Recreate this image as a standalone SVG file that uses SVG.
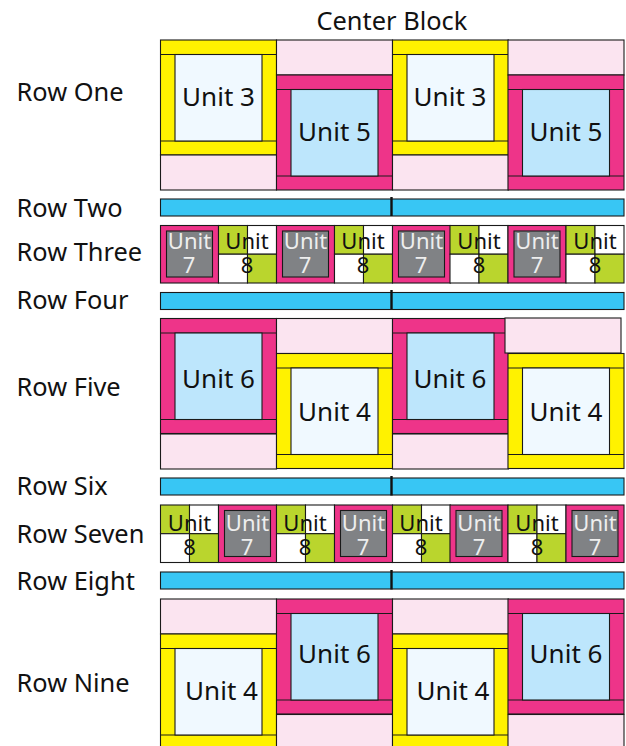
<svg xmlns="http://www.w3.org/2000/svg" width="626" height="746" viewBox="0 0 626 746">
<style>
text{font-family:"Noto Sans","Open Sans","DejaVu Sans",sans-serif;fill:#111}
.lab{font-size:25.4px}
.big{font-size:26px;text-anchor:middle}
.sm{font-size:22px;text-anchor:middle}
.w{fill:#eee}
rect,line{stroke:#1a1a1a;stroke-width:1.1}
.y{fill:#fff200}.m{fill:#ee3489}.p{fill:#fbe4f0}.lb{fill:#bde6fc}.pl{fill:#f0f9ff}.b{fill:#38c6f4}.g{fill:#bad52d}.wh{fill:#fff}.gr{fill:#808285}
.tick{stroke:#111;stroke-width:2.4}
</style>
<defs>
<g id="fy"><rect class="y" width="116" height="115"/><line x1="0" x2="116" y1="14.5" y2="14.5"/><line x1="0" x2="116" y1="101" y2="101"/><rect class="pl" x="14.5" y="14.5" width="87" height="86.5"/></g>
<g id="fm"><rect class="m" width="116" height="115"/><line x1="0" x2="116" y1="14.5" y2="14.5"/><line x1="0" x2="116" y1="101" y2="101"/><rect class="lb" x="14.5" y="14.5" width="87" height="86.5"/></g>
<rect id="pk" class="p" width="116" height="35"/>
<rect id="bar" class="b" width="463.5" height="17"/>
<g id="u7"><rect class="m" width="58" height="57.5"/><rect class="gr" x="6" y="5.5" width="46" height="46"/></g>
<g id="u8"><rect class="g" width="29" height="28.7"/><rect class="wh" x="29" width="29" height="28.7"/><rect class="wh" y="28.7" width="29" height="28.8"/><rect class="g" x="29" y="28.7" width="29" height="28.8"/></g>
</defs>

<g id="labels">
<text class="lab" x="316.5" y="30">Center Block</text>
<text class="lab" x="16.5" y="101">Row One</text>
<text class="lab" x="16.5" y="217">Row Two</text>
<text class="lab" x="16.5" y="261">Row Three</text>
<text class="lab" x="16.5" y="309">Row Four</text>
<text class="lab" x="16.5" y="396">Row Five</text>
<text class="lab" x="16.5" y="495">Row Six</text>
<text class="lab" x="16.5" y="543">Row Seven</text>
<text class="lab" x="16.5" y="590">Row Eight</text>
<text class="lab" x="16.5" y="692">Row Nine</text>
</g>

<g id="row1">
<g id="r1u3a"><use href="#fy" x="160.5" y="40"/><use href="#pk" x="160.5" y="155"/><text class="big" x="218.5" y="106">Unit 3</text></g>
<g id="r1u5a"><use href="#pk" x="276.5" y="40"/><use href="#fm" x="276.5" y="75"/><text class="big" x="334.5" y="141">Unit 5</text></g>
<g id="r1u3b"><use href="#fy" x="392.5" y="40"/><use href="#pk" x="392.5" y="155"/><text class="big" x="450" y="106">Unit 3</text></g>
<g id="r1u5b"><use href="#pk" x="508" y="40"/><use href="#fm" x="508" y="75"/><text class="big" x="566" y="141">Unit 5</text></g>
</g>

<g id="row2"><use href="#bar" x="160.5" y="199"/><line class="tick" x1="391.5" x2="391.5" y1="197" y2="216"/></g>

<g id="row3">
<g id="r3a"><use href="#u7" x="160.5" y="225.5"/><text class="sm w" x="189.5" y="249">Unit</text><text class="sm w" x="189" y="273">7</text></g>
<g id="r3b"><use href="#u8" x="218.5" y="225.5"/><text class="sm" x="247" y="249">Unit</text><text class="sm" x="247" y="273">8</text></g>
<g id="r3c"><use href="#u7" x="276.5" y="225.5"/><text class="sm w" x="305.5" y="249">Unit</text><text class="sm w" x="305" y="273">7</text></g>
<g id="r3d"><use href="#u8" x="334.5" y="225.5"/><text class="sm" x="363" y="249">Unit</text><text class="sm" x="363" y="273">8</text></g>
<g id="r3e"><use href="#u7" x="392.5" y="225.5"/><text class="sm w" x="421.5" y="249">Unit</text><text class="sm w" x="421" y="273">7</text></g>
<g id="r3f"><use href="#u8" x="450" y="225.5"/><text class="sm" x="479" y="249">Unit</text><text class="sm" x="479" y="273">8</text></g>
<g id="r3g"><use href="#u7" x="508" y="225.5"/><text class="sm w" x="537" y="249">Unit</text><text class="sm w" x="537" y="273">7</text></g>
<g id="r3h"><use href="#u8" x="566" y="225.5"/><text class="sm" x="595" y="249">Unit</text><text class="sm" x="595" y="273">8</text></g>
</g>

<g id="row4"><use href="#bar" x="160.5" y="292.5"/><line class="tick" x1="391.5" x2="391.5" y1="290" y2="309"/></g>

<g id="row5">
<g id="r5u6a"><use href="#fm" x="160.5" y="318.5"/><use href="#pk" x="160.5" y="434"/><text class="big" x="218.5" y="388">Unit 6</text></g>
<g id="r5u4a"><use href="#pk" x="276.5" y="318.5"/><use href="#fy" x="276.5" y="353.5"/><text class="big" x="334.5" y="421">Unit 4</text></g>
<g id="r5u6b"><use href="#fm" x="392.5" y="318.5"/><use href="#pk" x="392.5" y="434"/><text class="big" x="450" y="388">Unit 6</text></g>
<g id="r5u4b"><use href="#fy" x="508" y="353.5"/><use href="#pk" x="505" y="318"/><text class="big" x="566" y="421">Unit 4</text></g>
</g>

<g id="row6"><use href="#bar" x="160.5" y="478"/><line class="tick" x1="391.5" x2="391.5" y1="476" y2="495.5"/></g>

<g id="row7">
<g id="r7a"><use href="#u8" x="160.5" y="505"/><text class="sm" x="189.5" y="531">Unit</text><text class="sm" x="189.5" y="555">8</text></g>
<g id="r7b"><use href="#u7" x="218.5" y="505"/><text class="sm w" x="247.5" y="531">Unit</text><text class="sm w" x="247" y="555">7</text></g>
<g id="r7c"><use href="#u8" x="276.5" y="505"/><text class="sm" x="305" y="531">Unit</text><text class="sm" x="305" y="555">8</text></g>
<g id="r7d"><use href="#u7" x="334.5" y="505"/><text class="sm w" x="363.5" y="531">Unit</text><text class="sm w" x="363" y="555">7</text></g>
<g id="r7e"><use href="#u8" x="392.5" y="505"/><text class="sm" x="421" y="531">Unit</text><text class="sm" x="421" y="555">8</text></g>
<g id="r7f"><use href="#u7" x="450" y="505"/><text class="sm w" x="479" y="531">Unit</text><text class="sm w" x="479" y="555">7</text></g>
<g id="r7g"><use href="#u8" x="508" y="505"/><text class="sm" x="537" y="531">Unit</text><text class="sm" x="537" y="555">8</text></g>
<g id="r7h"><use href="#u7" x="566" y="505"/><text class="sm w" x="595" y="531">Unit</text><text class="sm w" x="595" y="555">7</text></g>
</g>

<g id="row8"><use href="#bar" x="160.5" y="572"/><line class="tick" x1="391.5" x2="391.5" y1="570" y2="589.5"/></g>

<g id="row9">
<g id="r9u4a"><use href="#pk" x="160.5" y="599"/><use href="#fy" x="160.5" y="634"/><text class="big" x="221.5" y="700">Unit 4</text></g>
<g id="r9u6a"><use href="#fm" x="276.5" y="599"/><use href="#pk" x="276.5" y="714.5"/><text class="big" x="334.5" y="663">Unit 6</text></g>
<g id="r9u4b"><use href="#pk" x="392.5" y="599"/><use href="#fy" x="392.5" y="634"/><text class="big" x="453" y="700">Unit 4</text></g>
<g id="r9u6b"><use href="#fm" x="508" y="599"/><use href="#pk" x="508" y="714.5"/><text class="big" x="566" y="663">Unit 6</text></g>
</g>
</svg>
